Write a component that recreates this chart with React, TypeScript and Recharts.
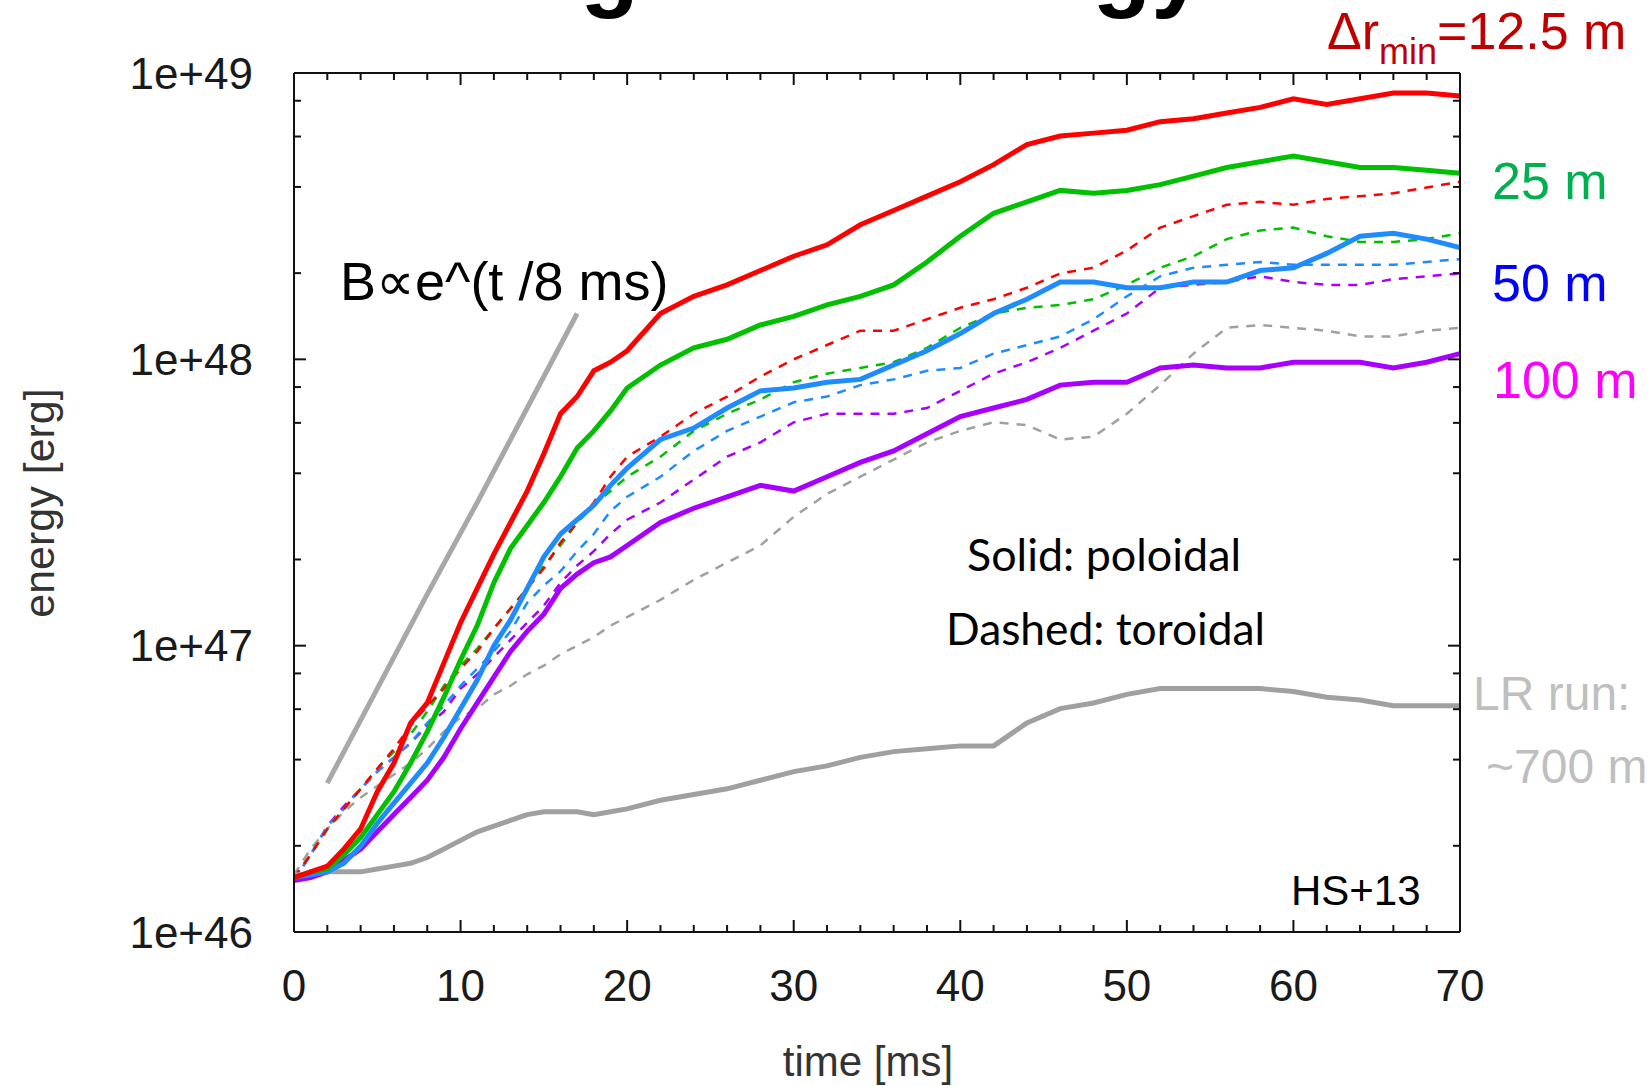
import { Line, LineChart, XAxis, YAxis } from "recharts";

const CHART_W = 1652;
const CHART_H = 1086;
const PLOT_LEFT = 294;
const PLOT_RIGHT = 1460;
const PLOT_TOP = 73;
const PLOT_BOTTOM = 932;

// time [ms]
const TIME = [
  0, 1, 2, 3, 4, 5, 6, 7, 8, 9, 10, 11, 12, 13, 14, 15, 16, 17, 18, 19, 20,
  22, 24, 26, 28, 30, 32, 34, 36, 38, 40, 42, 44, 46, 48, 50, 52, 54, 56, 58, 60, 62, 64, 66, 68, 70,
];

// energies are read as log10(E / erg)
// solid lines: poloidal
const RED_POLOIDAL = [
  46.19, 46.21, 46.23, 46.29, 46.36, 46.49, 46.59, 46.73, 46.8, 46.94, 47.08, 47.2, 47.32, 47.43, 47.54, 47.67, 47.81, 47.87, 47.96, 47.99, 48.03,
  48.16, 48.22, 48.26, 48.31, 48.36, 48.4, 48.47, 48.52, 48.57, 48.62, 48.68, 48.75, 48.78, 48.79, 48.8, 48.83, 48.84, 48.86, 48.88, 48.91, 48.89, 48.91, 48.93, 48.93, 48.92,
];
const GREEN_POLOIDAL = [
  46.19, 46.21, 46.22, 46.27, 46.33, 46.41, 46.49, 46.59, 46.7, 46.82, 46.95, 47.07, 47.22, 47.34, 47.42, 47.5, 47.59, 47.69, 47.75, 47.82, 47.9,
  47.98, 48.04, 48.07, 48.12, 48.15, 48.19, 48.22, 48.26, 48.34, 48.43, 48.51, 48.55, 48.59, 48.58, 48.59, 48.61, 48.64, 48.67, 48.69, 48.71, 48.69, 48.67, 48.67, 48.66, 48.65,
];
const BLUE_POLOIDAL = [
  46.19, 46.2, 46.21, 46.24, 46.3, 46.38, 46.45, 46.52, 46.59, 46.68, 46.78, 46.88, 47.0, 47.09, 47.2, 47.31, 47.39, 47.44, 47.49, 47.56, 47.62,
  47.72, 47.76, 47.83, 47.89, 47.9, 47.92, 47.93, 47.98, 48.03, 48.09, 48.16, 48.21, 48.27, 48.27, 48.25, 48.25, 48.27, 48.27, 48.31, 48.32, 48.37, 48.43, 48.44, 48.42, 48.39,
];
const PURPLE_POLOIDAL = [
  46.18, 46.19, 46.21, 46.25, 46.29, 46.35, 46.41, 46.47, 46.53, 46.61, 46.71, 46.8, 46.89, 46.98, 47.05, 47.11, 47.2, 47.25, 47.29, 47.31, 47.35,
  47.43, 47.48, 47.52, 47.56, 47.54, 47.59, 47.64, 47.68, 47.74, 47.8, 47.83, 47.86, 47.91, 47.92, 47.92, 47.97, 47.98, 47.97, 47.97, 47.99, 47.99, 47.99, 47.97, 47.99, 48.02,
];
const LR_POLOIDAL = [
  46.2, 46.2, 46.21, 46.21, 46.21, 46.22, 46.23, 46.24, 46.26, 46.29, 46.32, 46.35, 46.37, 46.39, 46.41, 46.42, 46.42, 46.42, 46.41, 46.42, 46.43,
  46.46, 46.48, 46.5, 46.53, 46.56, 46.58, 46.61, 46.63, 46.64, 46.65, 46.65, 46.73, 46.78, 46.8, 46.83, 46.85, 46.85, 46.85, 46.85, 46.84, 46.82, 46.81, 46.79, 46.79, 46.79,
];

// dashed lines: toroidal
const RED_TOROIDAL = [
  46.19, 46.27, 46.36, 46.43, 46.5, 46.57, 46.64, 46.72, 46.79, 46.85, 46.92, 46.98, 47.06, 47.13, 47.2, 47.27, 47.36, 47.43, 47.5, 47.59, 47.66,
  47.73, 47.81, 47.87, 47.94, 48.0, 48.05, 48.1, 48.1, 48.14, 48.18, 48.21, 48.25, 48.3, 48.32, 48.38, 48.46, 48.5, 48.54, 48.55, 48.54, 48.56, 48.57, 48.58, 48.6, 48.62,
];
const GREEN_TOROIDAL = [
  46.19, 46.27, 46.36, 46.43, 46.5, 46.57, 46.63, 46.69, 46.77, 46.86, 46.93, 46.99, 47.06, 47.13, 47.2, 47.28, 47.35, 47.43, 47.49, 47.54, 47.59,
  47.66, 47.75, 47.81, 47.86, 47.92, 47.95, 47.97, 47.99, 48.04, 48.11, 48.16, 48.18, 48.19, 48.21, 48.26, 48.32, 48.36, 48.42, 48.45, 48.46, 48.43, 48.41, 48.41, 48.42, 48.44,
];
const BLUE_TOROIDAL = [
  46.18, 46.27, 46.37, 46.43, 46.5, 46.56, 46.61, 46.66, 46.73, 46.79, 46.86, 46.92, 46.98, 47.05, 47.15, 47.21, 47.26, 47.33, 47.39, 47.47, 47.52,
  47.59, 47.68, 47.75, 47.8, 47.85, 47.87, 47.91, 47.93, 47.96, 47.97, 48.02, 48.05, 48.08, 48.14, 48.22, 48.29, 48.32, 48.33, 48.34, 48.33, 48.33, 48.33, 48.33, 48.34, 48.35,
];
const PURPLE_TOROIDAL = [
  46.18, 46.27, 46.37, 46.44, 46.5, 46.56, 46.61, 46.66, 46.72, 46.77, 46.85, 46.9, 46.96, 47.02, 47.08, 47.14, 47.22, 47.28, 47.33, 47.39, 47.44,
  47.5, 47.58, 47.66, 47.71, 47.78, 47.81, 47.81, 47.81, 47.83, 47.89, 47.95, 47.99, 48.04, 48.1, 48.16, 48.25, 48.26, 48.27, 48.29, 48.27, 48.26, 48.26, 48.28, 48.29, 48.3,
];
const LR_TOROIDAL = [
  46.2, 46.29, 46.36, 46.42, 46.47, 46.51, 46.55, 46.59, 46.64, 46.7, 46.75, 46.78, 46.83, 46.86, 46.9, 46.93, 46.97, 47.0, 47.03, 47.07, 47.1,
  47.16, 47.23, 47.29, 47.35, 47.45, 47.53, 47.59, 47.65, 47.71, 47.75, 47.78, 47.77, 47.72, 47.73, 47.81, 47.91, 48.02, 48.11, 48.12, 48.11, 48.1, 48.08, 48.08, 48.1, 48.11,
];

// guide line B ∝ e^(t / 8 ms)
const FIT_TIME = [2, 5, 8, 11, 14, 17];
const FIT_LOG_E = [46.52, 46.85, 47.18, 47.5, 47.83, 48.16];

const X_LABELS = [0, 10, 20, 30, 40, 50, 60, 70];
const X_MINOR_STEP = 2;
const Y_DECADES = [46, 47, 48, 49];
const Y_MINOR = [2, 4, 6, 8];

const RED = "#ff0000";
const GREEN = "#00c000";
const BLUE = "#1e8cff";
const PURPLE = "#a800ff";
const GRAY = "#a0a0a0";
const AXIS = "#111111";
const TEXT = "#1a1a1a";
const SANS = "'Liberation Sans', Arial, sans-serif";

const SERIES = [
  { key: "lrTor", values: LR_TOROIDAL, color: GRAY, dashed: true },
  { key: "purpleTor", values: PURPLE_TOROIDAL, color: PURPLE, dashed: true },
  { key: "blueTor", values: BLUE_TOROIDAL, color: BLUE, dashed: true },
  { key: "greenTor", values: GREEN_TOROIDAL, color: GREEN, dashed: true },
  { key: "redTor", values: RED_TOROIDAL, color: RED, dashed: true },
  { key: "lrPol", values: LR_POLOIDAL, color: GRAY, dashed: false },
  { key: "purplePol", values: PURPLE_POLOIDAL, color: PURPLE, dashed: false },
  { key: "bluePol", values: BLUE_POLOIDAL, color: BLUE, dashed: false },
  { key: "greenPol", values: GREEN_POLOIDAL, color: GREEN, dashed: false },
  { key: "redPol", values: RED_POLOIDAL, color: RED, dashed: false },
];

const rows = TIME.map((t, i) => {
  const row: Record<string, number> = { t };
  for (const s of SERIES) row[s.key] = 10 ** s.values[i];
  return row;
});

const fitRows = FIT_TIME.map((t, i) => ({ t, fit: 10 ** FIT_LOG_E[i] }));

const X_TICKS = Array.from({ length: 70 / X_MINOR_STEP + 1 }, (_, i) => i * X_MINOR_STEP);
const Y_TICKS = Y_DECADES.flatMap((d, i) =>
  i === Y_DECADES.length - 1 ? [10 ** d] : [10 ** d, ...Y_MINOR.map((m) => m * 10 ** d)],
);

const MAJOR_LEN = 12;
const MINOR_LEN = 7;
const isMajorX = (v: number) => X_LABELS.includes(v);
const isDecade = (v: number) => Math.abs(Math.log10(v) - Math.round(Math.log10(v))) < 1e-9;
const inX = (x: number) => x >= PLOT_LEFT - 2 && x <= PLOT_RIGHT + 2;
const inY = (y: number) => y >= PLOT_TOP - 2 && y <= PLOT_BOTTOM + 2;

const BottomTick = ({ x, y, payload }: any) => {
  if (!inX(x)) return <g />;
  const major = isMajorX(payload.value);
  return (
    <g>
      <line x1={x} x2={x} y1={y} y2={y - (major ? MAJOR_LEN : MINOR_LEN)} stroke={AXIS} strokeWidth={2} />
      {major && (
        <text x={x} y={y + 53} textAnchor="middle" dominantBaseline="central" fontSize={44} fontFamily={SANS} fill={TEXT}>
          {payload.value}
        </text>
      )}
    </g>
  );
};

const TopTick = ({ x, y, payload }: any) => {
  if (!inX(x) || Math.abs(y - PLOT_TOP) > 3) return <g />;
  const major = isMajorX(payload.value);
  return <line x1={x} x2={x} y1={y} y2={y + (major ? MAJOR_LEN : MINOR_LEN)} stroke={AXIS} strokeWidth={2} />;
};

const LeftTick = ({ x, y, payload }: any) => {
  if (!inY(y)) return <g />;
  const major = isDecade(payload.value);
  return (
    <g>
      <line x1={x} x2={x + (major ? MAJOR_LEN : MINOR_LEN)} y1={y} y2={y} stroke={AXIS} strokeWidth={2} />
      {major && (
        <text x={x - 41} y={y} textAnchor="end" dominantBaseline="central" fontSize={44} fontFamily={SANS} fill={TEXT}>
          {`1e+${Math.round(Math.log10(payload.value))}`}
        </text>
      )}
    </g>
  );
};

const RightTick = ({ x, y, payload }: any) => {
  if (!inY(y) || Math.abs(x - PLOT_RIGHT) > 3) return <g />;
  const major = isDecade(payload.value);
  return <line x1={x} x2={x - (major ? MAJOR_LEN : MINOR_LEN)} y1={y} y2={y} stroke={AXIS} strokeWidth={2} />;
};

const Annotations = () => (
  <svg
    width={CHART_W}
    height={CHART_H}
    style={{ position: "absolute", left: 0, top: 0, pointerEvents: "none" }}
    fontFamily={SANS}
  >
    <text x={447} y={-1} fontSize={96} fontWeight="bold" fill="#000">
      Magnetic energy
    </text>

    <text x={1327} y={49} fontSize={52} fill="#c00000">
      Δr
      <tspan fontSize={36} dy={15}>
        min
      </tspan>
      <tspan dy={-15}>=12.5 m</tspan>
    </text>
    <text x={1492} y={199} fontSize={52} fill="#00b050">
      25 m
    </text>
    <text x={1492} y={301} fontSize={52} fill="#0000ff">
      50 m
    </text>
    <text x={1493} y={398} fontSize={52} fill="#ff00ff">
      100 m
    </text>
    <text x={1473} y={710} fontSize={48} fill="#bfbfbf">
      LR run:
    </text>
    <text x={1486} y={783} fontSize={48} fill="#bfbfbf">
      ~700 m
    </text>

    <text x={340} y={300} fontSize={54} fill="#000">
      B∝e^(t /8 ms)
    </text>
    <text x={967} y={571} fontSize={44} fontFamily="Lato, 'Open Sans', sans-serif" textLength={274} lengthAdjust="spacingAndGlyphs" fill="#000">
      Solid: poloidal
    </text>
    <text x={946} y={645} fontSize={44} fontFamily="Lato, 'Open Sans', sans-serif" textLength={319} lengthAdjust="spacingAndGlyphs" fill="#000">
      Dashed: toroidal
    </text>
    <text x={1291} y={905} fontSize={42} fill="#000">
      HS+13
    </text>

    <text x={868} y={1076} fontSize={42} textAnchor="middle" fill="#333">
      time [ms]
    </text>
    <text transform="translate(54, 503) rotate(-90)" fontSize={43} textAnchor="middle" fill="#333">
      energy [erg]
    </text>
  </svg>
);

export default function App() {
  return (
    <div style={{ position: "absolute", left: 0, top: 0, width: CHART_W, height: CHART_H, background: "#fff", overflow: "hidden" }}>
      <LineChart
        width={CHART_W}
        height={CHART_H}
        data={rows}
        margin={{ top: PLOT_TOP - 30, right: CHART_W - PLOT_RIGHT - 60, bottom: CHART_H - PLOT_BOTTOM - 30, left: PLOT_LEFT - 60 }}
      >
        <XAxis
          xAxisId="bottom"
          dataKey="t"
          type="number"
          domain={[0, 70]}
          allowDataOverflow
          ticks={X_TICKS}
          interval={0}
          height={30}
          tickSize={0}
          tickMargin={0}
          tickLine={false}
          axisLine={{ stroke: AXIS, strokeWidth: 2 }}
          tick={BottomTick}
        />
        <XAxis
          xAxisId="top"
          dataKey="t"
          orientation="top"
          type="number"
          domain={[0, 70]}
          allowDataOverflow
          ticks={X_TICKS}
          interval={0}
          height={30}
          tickSize={0}
          tickMargin={0}
          tickLine={false}
          axisLine={{ stroke: AXIS, strokeWidth: 2 }}
          tick={TopTick}
        />
        <YAxis
          yAxisId="left"
          type="number"
          scale="log"
          domain={[1e46, 1e49]}
          allowDataOverflow
          ticks={Y_TICKS}
          interval={0}
          width={60}
          tickSize={0}
          tickMargin={0}
          tickLine={false}
          axisLine={{ stroke: AXIS, strokeWidth: 2 }}
          tick={LeftTick}
        />
        <YAxis
          yAxisId="right"
          orientation="right"
          type="number"
          scale="log"
          domain={[1e46, 1e49]}
          allowDataOverflow
          ticks={Y_TICKS}
          interval={0}
          width={60}
          tickSize={0}
          tickMargin={0}
          tickLine={false}
          axisLine={{ stroke: AXIS, strokeWidth: 2 }}
          tick={RightTick}
        />
        {SERIES.filter((s) => s.dashed).map((s) => (
          <Line
            key={s.key}
            xAxisId="bottom"
            yAxisId="left"
            dataKey={s.key}
            stroke={s.color}
            strokeWidth={2.5}
            strokeDasharray="9 8"
            dot={false}
            type="linear"
            isAnimationActive={false}
          />
        ))}
        <Line
          data={fitRows}
          xAxisId="bottom"
          yAxisId="left"
          dataKey="fit"
          stroke="#a8a8a8"
          strokeWidth={5}
          dot={false}
          type="linear"
          isAnimationActive={false}
        />
        {SERIES.filter((s) => !s.dashed).map((s) => (
          <Line
            key={s.key}
            xAxisId="bottom"
            yAxisId="left"
            dataKey={s.key}
            stroke={s.color}
            strokeWidth={5}
            dot={false}
            type="linear"
            isAnimationActive={false}
          />
        ))}
      </LineChart>
      <Annotations />
    </div>
  );
}
